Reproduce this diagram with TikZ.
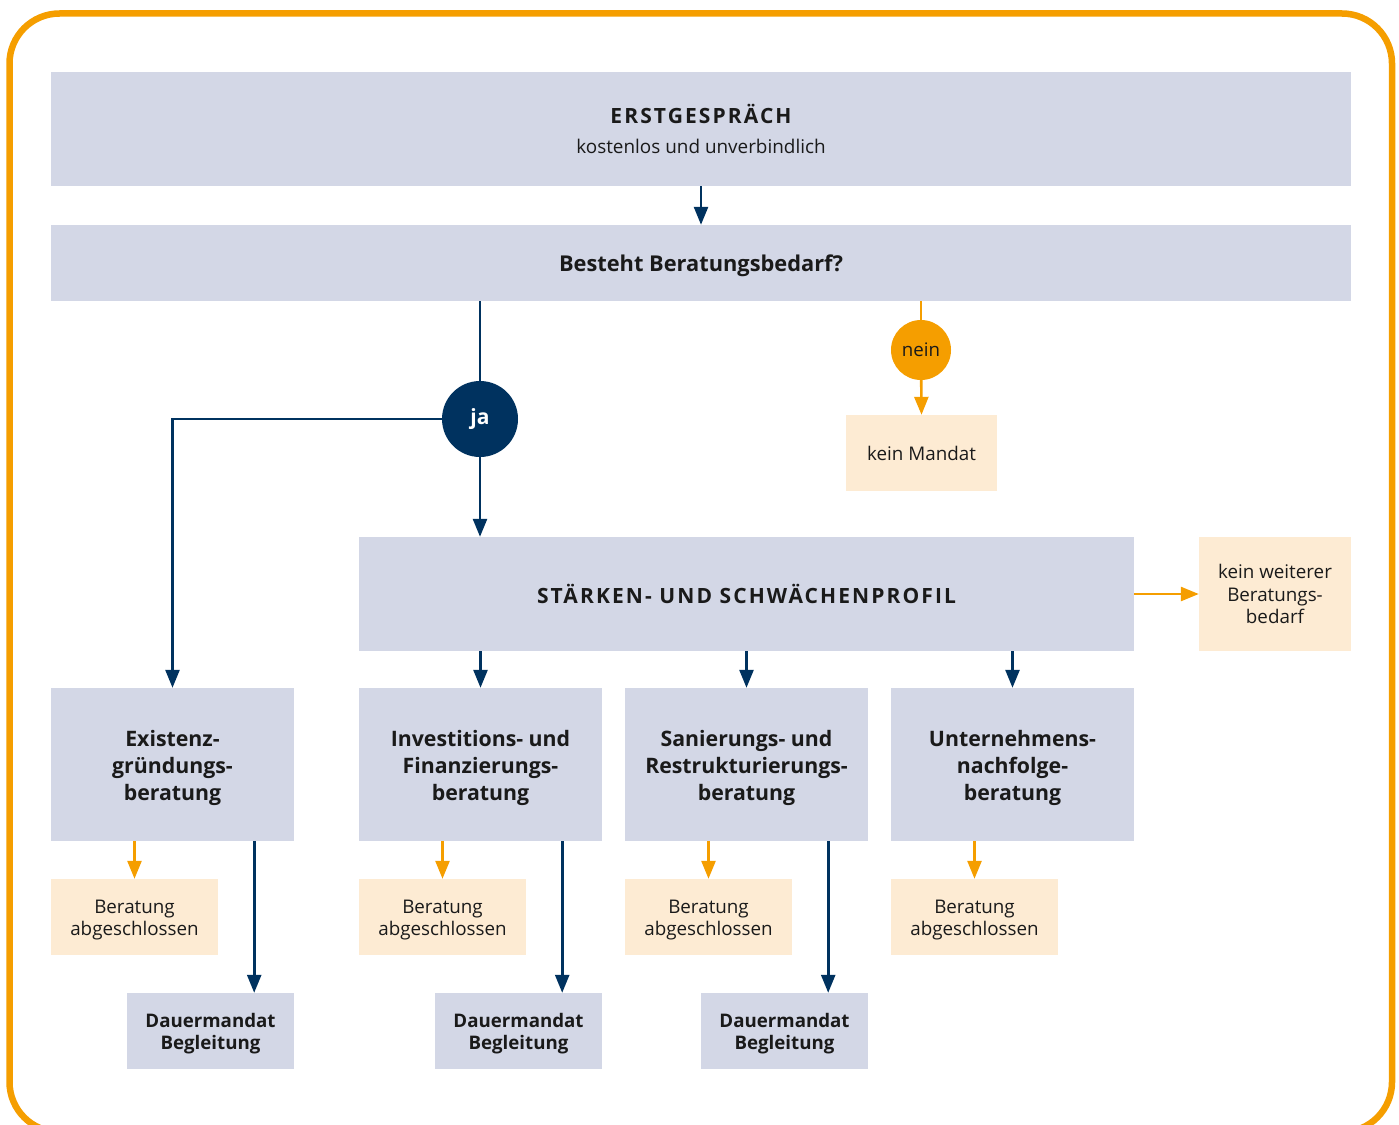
\documentclass[tikz,border=0pt]{standalone}
\usepackage{fontspec}
\setmainfont{Open Sans}
\usetikzlibrary{arrows.meta}
\definecolor{boxblue}{HTML}{D3D7E6}
\definecolor{peach}{HTML}{FDEBD3}
\definecolor{orng}{HTML}{F59E00}
\definecolor{navy}{HTML}{00325F}
\definecolor{txt}{HTML}{1A1A1A}
\tikzset{
  bluebox/.style={fill=boxblue, inner sep=0pt, align=center, text=txt,
    font=\fontsize{21.3}{27}\selectfont\bfseries},
  peachbox/.style={fill=peach, inner sep=0pt, align=center, text=txt,
    font=\fontsize{18.8}{22.5}\selectfont},
  boldlbl/.style={inner sep=0pt, align=center, text=txt, yshift=-3.5pt,
    font=\fontsize{21.3}{27}\selectfont\bfseries},
  smalllbl/.style={inner sep=0pt, align=center, text=txt, yshift=-3pt,
    font=\fontsize{18.7}{22}\selectfont\bfseries},
  peachlbl/.style={inner sep=0pt, align=center, text=txt, yshift=-3pt,
    font=\fontsize{18.8}{22}\selectfont},
  navyline/.style={draw=navy, line width=2.6pt},
  navyarrow/.style={navyline, -{Triangle[length=18pt,width=14pt]}},
  orngline/.style={draw=orng, line width=2.6pt},
  orngarrow/.style={orngline, -{Triangle[length=18pt,width=14pt]}},
  sub/.style={fill=boxblue, minimum width=243pt, minimum height=153pt, inner sep=0pt},
  done/.style={fill=peach, minimum width=167pt, minimum height=76pt, inner sep=0pt},
  dauer/.style={fill=boxblue, minimum width=167pt, minimum height=76pt, inner sep=0pt},
}
\begin{document}
\begin{tikzpicture}[x=1pt,y=-1pt]
\useasboundingbox (0,0) rectangle (1399,1124);
\draw[orng, line width=6.5pt, rounded corners=50pt] (9.5,13.5) rectangle (1392,1132);

% top boxes
\node[bluebox, minimum width=1300pt, minimum height=114pt] (erst) at (701,129)
  {{\fontsize{21}{24}\selectfont\addfontfeatures{LetterSpace=10}ERSTGESPRÄCH}\\[3pt]
   {\fontsize{18.9}{22}\selectfont\mdseries kostenlos und unverbindlich}};
\node[fill=boxblue, inner sep=0pt, minimum width=1300pt, minimum height=76pt,
  label={[boldlbl, yshift=1pt, font=\fontsize{21.8}{26}\selectfont\bfseries]center:Besteht Beratungsbedarf?}] (bedarf) at (701,263) {};

% decision circles
\node[circle, fill=navy, minimum size=76pt, inner sep=0pt, text=white,
  font=\fontsize{21}{24}\selectfont\bfseries] (ja) at (480,419) {ja};
\node[circle, fill=orng, minimum size=60pt, inner sep=0pt, text=txt,
  font=\fontsize{18.7}{22}\selectfont] (nein) at (921,350) {nein};

\node[peachbox, minimum width=151pt, minimum height=76pt] (keinm) at (921.5,453) {kein Mandat};

% profile
\node[bluebox, minimum width=775pt, minimum height=114pt, font=\fontsize{21}{24}\selectfont\bfseries] (profil) at (746.5,594)
  {\addfontfeatures{LetterSpace=10}STÄRKEN- UND SCHWÄCHENPROFIL};
\node[peachbox, minimum width=152pt, minimum height=114pt] (keinw) at (1275,594)
  {kein weiterer\\Beratungs-\\bedarf};

% consulting types
\node[sub, label={[boldlbl]center:{Existenz-\\gründungs-\\beratung}}] (exist) at (172.5,764.5) {};
\node[sub, label={[boldlbl]center:{Investitions- und\\Finanzierungs-\\beratung}}] (invest) at (480.5,764.5) {};
\node[sub, label={[boldlbl]center:{Sanierungs- und\\Restrukturierungs-\\beratung}}] (sanier) at (746.5,764.5) {};
\node[sub, label={[boldlbl]center:{Unternehmens-\\nachfolge-\\beratung}}] (untern) at (1012.5,764.5) {};

% finished
\node[done, label={[peachlbl]center:{Beratung\\abgeschlossen}}] (b1) at (134.5,917) {};
\node[done, label={[peachlbl]center:{Beratung\\abgeschlossen}}] (b2) at (442.5,917) {};
\node[done, label={[peachlbl]center:{Beratung\\abgeschlossen}}] (b3) at (708.5,917) {};
\node[done, label={[peachlbl]center:{Beratung\\abgeschlossen}}] (b4) at (974.5,917) {};

% long-term
\node[dauer, label={[smalllbl]center:{Dauermandat\\Begleitung}}] (d1) at (210.5,1031) {};
\node[dauer, label={[smalllbl]center:{Dauermandat\\Begleitung}}] (d2) at (518.5,1031) {};
\node[dauer, label={[smalllbl]center:{Dauermandat\\Begleitung}}] (d3) at (784.5,1031) {};

% connectors
\draw[navyarrow] (erst.south) -- (bedarf.north);
\draw[navyline] (ja |- bedarf.south) -- (ja);
\draw[navyarrow] (ja) -- (ja |- profil.north);
\draw[navyarrow] (ja.west) -| (exist.north);
\draw[orngline] (nein |- bedarf.south) -- (nein);
\draw[orngarrow] (nein) -- (keinm.north);
\draw[orngarrow] (profil.east) -- (keinw.west);

\draw[navyarrow] (profil.south -| invest.north) -- (invest.north);
\draw[navyarrow] (profil.south -| sanier.north) -- (sanier.north);
\draw[navyarrow] (profil.south -| untern.north) -- (untern.north);

\draw[orngarrow] (exist.south -| b1.north) -- (b1.north);
\draw[orngarrow] (invest.south -| b2.north) -- (b2.north);
\draw[orngarrow] (sanier.south -| b3.north) -- (b3.north);
\draw[orngarrow] (untern.south -| b4.north) -- (b4.north);

\draw[navyarrow] ([xshift=-40pt]exist.south east) -- ([xshift=-40pt]d1.north east);
\draw[navyarrow] ([xshift=-40pt]invest.south east) -- ([xshift=-40pt]d2.north east);
\draw[navyarrow] ([xshift=-40pt]sanier.south east) -- ([xshift=-40pt]d3.north east);
\end{tikzpicture}
\end{document}
